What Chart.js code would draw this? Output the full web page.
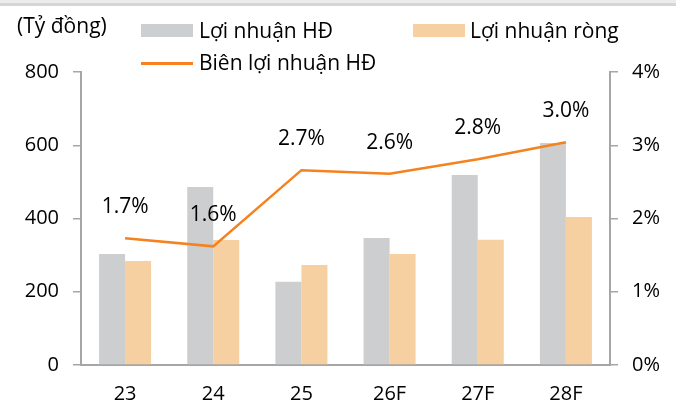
<!DOCTYPE html>
<html>
<head>
<meta charset="utf-8">
<script src="https://cdn.jsdelivr.net/npm/chart.js"></script>
<style>
  body { margin: 0; background: #fff; font-family: 'Open Sans', sans-serif; }
  #wrap { position: relative; width: 676px; height: 408px; overflow: hidden; }
  .band1 { position: absolute; left: 0; top: 0; width: 676px; height: 3px; background: #ececec; }
  .band2 { position: absolute; left: 0; top: 3px; width: 676px; height: 3px; background: #d6d6d6; }
  .txt { position: absolute; font-size: 21px; color: #000; white-space: nowrap; line-height: 24px; }
  .box { position: absolute; width: 52px; height: 13px; }
  .ln { position: absolute; width: 52px; height: 3px; background: #f5821f; }
</style>
</head>
<body>
<div id="wrap">
  <canvas id="chart" width="676" height="408"></canvas>
  <div class="band1"></div><div class="band2"></div>
  <div class="txt" style="left:17px;top:13px;">(Tỷ đồng)</div>
  <div class="box" style="left:141px;top:24px;background:#cdced0;"></div>
  <div class="txt" style="left:199px;top:18px;">Lợi nhuận HĐ</div>
  <div class="box" style="left:413px;top:24px;background:#f7d0a2;"></div>
  <div class="txt" style="left:470px;top:18px;">Lợi nhuận ròng</div>
  <div class="ln" style="left:141px;top:62px;"></div>
  <div class="txt" style="left:199px;top:50px;">Biên lợi nhuận HĐ</div>
</div>
<script>
const categories = ['23', '24', '25', '26F', '27F', '28F'];
const operatingProfit = [303, 486, 227, 347, 519, 606];
const netProfit = [284, 341, 273, 303, 342, 404];
const operatingMargin = [1.73, 1.62, 2.66, 2.61, 2.81, 3.04];
const marginLabels = ['1.7%', '1.6%', '2.7%', '2.6%', '2.8%', '3.0%'];
const leftTicks = [0, 200, 400, 600, 800];
const rightTicks = [0, 1, 2, 3, 4];

const axisColor = '#a6a6a6';
const font = { family: "'Open Sans', sans-serif", size: 20 };

// percent labels above the line points
const marginLabelPlugin = {
  id: 'marginLabels',
  afterDatasetsDraw(chart) {
    const meta = chart.getDatasetMeta(0);
    const ctx = chart.ctx;
    ctx.save();
    ctx.font = "21px 'Open Sans', sans-serif";
    ctx.fillStyle = '#000';
    ctx.textAlign = 'center';
    ctx.textBaseline = 'middle';
    meta.data.forEach((pt, i) => {
      ctx.fillText(marginLabels[i], pt.x, pt.y - 31);
    });
    ctx.restore();
  }
};

new Chart(document.getElementById('chart'), {
  type: 'bar',
  data: {
    labels: categories,
    datasets: [
      {
        type: 'line', label: 'Biên lợi nhuận HĐ', data: operatingMargin, yAxisID: 'y2',
        borderColor: '#f5821f', borderWidth: 2.5, pointRadius: 0, tension: 0, order: 0
      },
      { label: 'Lợi nhuận HĐ', data: operatingProfit, backgroundColor: '#cdced0', yAxisID: 'y', order: 1 },
      { label: 'Lợi nhuận ròng', data: netProfit, backgroundColor: '#f7d0a2', yAxisID: 'y', order: 1 }
    ]
  },
  options: {
    responsive: false,
    animation: false,
    layout: { padding: { top: 72, left: 0, right: 0, bottom: 0 } },
    datasets: { bar: { categoryPercentage: 0.59, barPercentage: 1 } },
    plugins: { legend: { display: false }, tooltip: { enabled: false } },
    scales: {
      x: {
        grid: { display: false, drawTicks: false },
        border: { display: true, color: axisColor, width: 2 },
        ticks: { font, color: '#000', padding: 17 },
        afterFit(s) { s.height = 43; }
      },
      y: {
        position: 'left', min: 0, max: 800,
        afterBuildTicks(s) { s.ticks = leftTicks.map(v => ({ value: v })); },
        grid: { drawOnChartArea: false, tickLength: 8, color: axisColor, lineWidth: 1.5 },
        border: { display: true, color: axisColor, width: 2 },
        ticks: { font, color: '#000', padding: 14 },
        afterFit(s) { s.width = 81; }
      },
      y2: {
        position: 'right', min: 0, max: 4,
        afterBuildTicks(s) { s.ticks = rightTicks.map(v => ({ value: v })); },
        grid: { drawOnChartArea: false, tickLength: 8, color: axisColor, lineWidth: 1.5 },
        border: { display: true, color: axisColor, width: 2 },
        ticks: { font, color: '#000', padding: 14, callback: v => v + '%' },
        afterFit(s) { s.width = 66; }
      }
    }
  },
  plugins: [marginLabelPlugin]
});
</script>
</body>
</html>
